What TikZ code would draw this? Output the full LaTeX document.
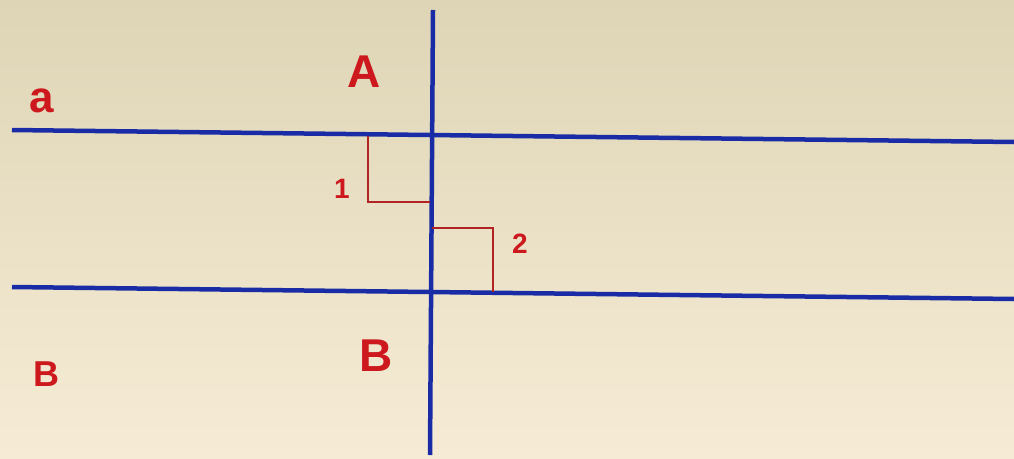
\documentclass[tikz,border=0pt]{standalone}
\usepackage{fontspec}
\setmainfont{Liberation Sans}
\begin{document}
\begin{tikzpicture}[x=1pt,y=-1pt,
  bluel/.style={draw=lineblue,line width=4.5pt},
  markl/.style={draw=markred,line width=2.4pt},
  lbl/.style={text=labred,font=\bfseries,inner sep=0pt,anchor=center}]
\definecolor{lineblue}{RGB}{26,44,165}
\definecolor{markred}{RGB}{178,36,36}
\definecolor{labred}{RGB}{205,25,30}
\definecolor{bgtop}{RGB}{222,213,182}
\definecolor{bgbot}{RGB}{246,236,214}
\useasboundingbox (0,0) rectangle (1014,458);
\shade[top color=bgtop,bottom color=bgbot] (0,0) rectangle (1014,458);
% line endpoints
\coordinate (a1) at (12,130);
\coordinate (a2) at (1014,142);
\coordinate (b1) at (12,287);
\coordinate (b2) at (1014,299);
\coordinate (v1) at (433,10);
\coordinate (v2) at (430,455);
\draw[bluel] (a1) -- (a2);
\draw[bluel] (b1) -- (b2);
\draw[bluel] (v1) -- (v2);
% right angle marks
\coordinate (m1a) at (368,136);
\coordinate (m1b) at (368,202);
\coordinate (m1c) at (430,202);
\draw[markl] (m1a) -- (m1b) -- (m1c);
\coordinate (m2a) at (432,228);
\coordinate (m2b) at (493,228);
\coordinate (m2c) at (493,292);
\draw[markl] (m2a) -- (m2b) -- (m2c);
% labels
\node[lbl,font=\bfseries\fontsize{46}{46}\selectfont] (A) at (364,72) {A};
\node[lbl,font=\bfseries\fontsize{44}{44}\selectfont] (la) at (42,101) {a};
\node[lbl,font=\bfseries\fontsize{46}{46}\selectfont] (B) at (376,356) {B};
\node[lbl,font=\bfseries\fontsize{36}{36}\selectfont] (lb) at (46,374) {B};
\node[lbl,font=\bfseries\fontsize{28}{28}\selectfont] (n1) at (342,189) {1};
\node[lbl,font=\bfseries\fontsize{28}{28}\selectfont] (n2) at (520,244) {2};
\end{tikzpicture}
\end{document}
